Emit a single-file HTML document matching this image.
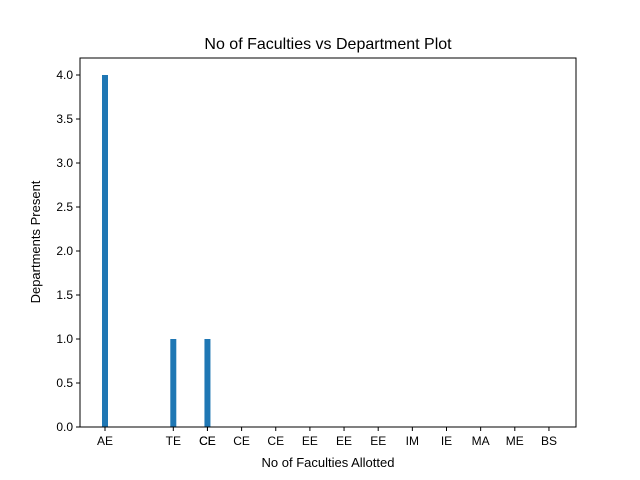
<!DOCTYPE html>
<html><head><meta charset="utf-8"><style>
body{margin:0;background:#fff;}
svg{display:block;font-family:"Liberation Sans","DejaVu Sans",sans-serif;}
</style></head><body>
<svg id="chart" width="640" height="480">
<rect width="640" height="480" fill="#fff"/>
<text x="328" y="49" text-anchor="middle" font-size="16">No of Faculties vs Department Plot</text>
<text x="328" y="467" text-anchor="middle" font-size="13">No of Faculties Allotted</text>
<text transform="translate(40,242) rotate(-90)" text-anchor="middle" font-size="13">Departments Present</text>
<g id="plot"></g>
</svg>
<script>
const tickLabels = ["AE","TE","CE","CE","CE","CE","EE","EE","EE","IM","IE","MA","ME","BS"];
const tickPos = [0,2,3,3,4,5,6,7,8,9,10,11,12,13];
const barPos = [0,2,3];
const barValues = [4,1,1];
const yTicks = [0,0.5,1,1.5,2,2.5,3,3.5,4];

const L=80,R=576,T=58,B=427;
const x = v => 105 + v*34.15;
const y = v => B - v*88;
const ns="http://www.w3.org/2000/svg";
const g=document.getElementById('plot');
function mk(tag,attrs){const e=document.createElementNS(ns,tag);for(const k in attrs)e.setAttribute(k,attrs[k]);g.appendChild(e);return e;}

barValues.forEach((v,i)=>{
  const r=mk('rect',{x:x(barPos[i])-3,y:y(v),width:6,height:B-y(v),fill:'#1f77b4'});
  
  
});
const frame=mk('rect',{x:L,y:T,width:R-L,height:B-T,fill:'none',stroke:'#000','stroke-width':1});



yTicks.forEach(t=>{
  mk('line',{x1:L-4,x2:L,y1:y(t),y2:y(t),stroke:'#000'});
  const tx=mk('text',{x:L-7,y:y(t)+4,'text-anchor':'end','font-size':12});
  tx.textContent=t.toFixed(1);
  
  
});
tickLabels.forEach((lab,i)=>{
  const px=x(tickPos[i]);
  mk('line',{x1:px,x2:px,y1:B,y2:B+4,stroke:'#000'});
  const tx=mk('text',{x:px,y:B+18,'text-anchor':'middle','font-size':12});
  tx.textContent=lab;
  
  
});
</script>
</body></html>
